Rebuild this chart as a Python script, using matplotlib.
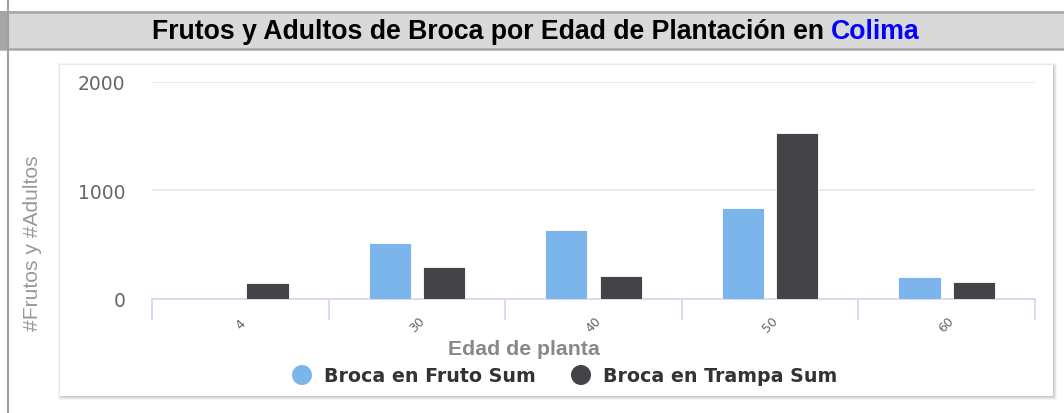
import matplotlib
matplotlib.use("Agg")
import matplotlib.pyplot as plt
from matplotlib.patches import Rectangle, Ellipse
from matplotlib.transforms import blended_transform_factory
import numpy as np

# ---- data ----
categories = ['4', '30', '40', '50', '60']
fruto = [0, 515, 635, 835, 205]
trampa = [145, 295, 212, 1528, 159]
series_names = ['Broca en Fruto Sum', 'Broca en Trampa Sum']
title_main = 'Frutos y Adultos de Broca por Edad de Plantación en '
title_place = 'Colima'
xlabel = 'Edad de planta'
ylabel = '#Frutos y #Adultos'
yticks = [0, 1000, 2000]

W, H = 1064, 414
fig = plt.figure(figsize=(W / 100, H / 100), dpi=100)
fig.patch.set_facecolor('white')

def fx(px):
    return px / W

def fy(py):
    return 1 - py / H

# title band
fig.patches.append(Rectangle((fx(0), fy(50)), 1, (50 - 12) / H, transform=fig.transFigure,
                             facecolor='#d9d9d9', edgecolor='none', zorder=0))
fig.add_artist(plt.Line2D([0, 1], [fy(12.5), fy(12.5)], transform=fig.transFigure, color='#a6a6a6', lw=1.8))
fig.add_artist(plt.Line2D([0, 1], [fy(49.5), fy(49.5)], transform=fig.transFigure, color='#a6a6a6', lw=1.8))
fig.patches.append(Rectangle((0, fy(50)), fx(7), (50 - 12) / H, transform=fig.transFigure,
                             facecolor='#a6a6a6', edgecolor='none', zorder=1))
fig.add_artist(plt.Line2D([fx(7.5), fx(7.5)], [0, 1], transform=fig.transFigure, color='#a0a0a0', lw=1.5))

# card with shadow
cx0, cy0, cx1, cy1 = 60, 66, 1053, 397
for i, a in enumerate([0.04, 0.05, 0.06, 0.08]):
    off = 4 - i
    fig.patches.append(Rectangle((fx(cx0 - off + 2), fy(cy1 + off)), (cx1 - cx0 + 2 * off - 2) / W,
                                 (cy1 - cy0 + 2 * off - 2) / H, transform=fig.transFigure,
                                 facecolor='black', alpha=a, edgecolor='none', zorder=1))
fig.patches.append(Rectangle((fx(cx0), fy(cy1)), (cx1 - cx0) / W, (cy1 - cy0) / H,
                             transform=fig.transFigure, facecolor='white', edgecolor='none', zorder=2))

# title text
t1 = fig.text(fx(152), fy(32), title_main, fontsize=19.2, fontweight='bold',
              family='Liberation Sans', color='black', va='center', ha='left', zorder=5)
fig.canvas.draw()
bb = t1.get_window_extent(renderer=fig.canvas.get_renderer())
fig.text(bb.x1 / W, fy(32), title_place, fontsize=19.2, fontweight='bold',
         family='Liberation Sans', color='#0000ff', va='center', ha='left', zorder=5)

# axes
left, right, top, bottom = 152, 1035, 82.7, 300
ax = fig.add_axes([fx(left), fy(bottom), (right - left) / W, (bottom - top) / H], zorder=3)
ax.set_facecolor('none')
n = len(categories)
x = np.arange(n)
bw = 0.238
off = 0.154
ax.bar(x - off, fruto, bw, color='#7cb5ec', edgecolor='white', linewidth=0.6, zorder=3)
ax.bar(x + off, trampa, bw, color='#434348', edgecolor='white', linewidth=0.6, zorder=3)
ax.set_xlim(-0.5, n - 0.5)
ax.set_ylim(0, 2000)
ax.set_yticks(yticks)
ax.set_yticklabels([str(v) for v in yticks], fontsize=13.5, color='#666666', family='DejaVu Sans')
ax.tick_params(axis='y', length=0, pad=19)
for v in yticks[1:]:
    ax.axhline(v, color='#e6e6e6', lw=1.2, zorder=1)
for s in ['top', 'right', 'left']:
    ax.spines[s].set_visible(False)
ax.spines['bottom'].set_color('#ccd6eb')
ax.spines['bottom'].set_linewidth(1.2)
ax.set_xticks(np.arange(n + 1) - 0.5)
ax.set_xticklabels([])
ax.tick_params(axis='x', length=15, width=1.2, color='#ccd6eb', direction='out')
tr = blended_transform_factory(ax.transData, fig.transFigure)
for i, c in enumerate(categories):
    ax.text(i, fy(325), c, transform=tr, rotation=45, fontsize=9, color='#666666',
            ha='center', va='center', family='DejaVu Sans')

# axis labels
fig.text(fx(524), fy(350), xlabel, fontsize=15.3, fontweight='bold', color='#888888',
         family='Liberation Sans', ha='center', va='center', zorder=5)
fig.text(fx(33), fy(243), ylabel, fontsize=15.1, color='#999999', rotation=90,
         family='Liberation Sans', ha='center', va='center', zorder=5)

# legend
colors = ['#7cb5ec', '#434348']
lx = [302, 581]
for c, name, px in zip(colors, series_names, lx):
    fig.patches.append(Ellipse((fx(px), fy(376)), 20 / W, 20 / H, transform=fig.transFigure,
                               facecolor=c, edgecolor='none', zorder=5))
    fig.text(fx(px + 22), fy(377), name, fontsize=13.7, fontweight='bold', color='#333333',
             family='DejaVu Sans', ha='left', va='center', zorder=5)

fig.savefig('out.png', dpi=100)
